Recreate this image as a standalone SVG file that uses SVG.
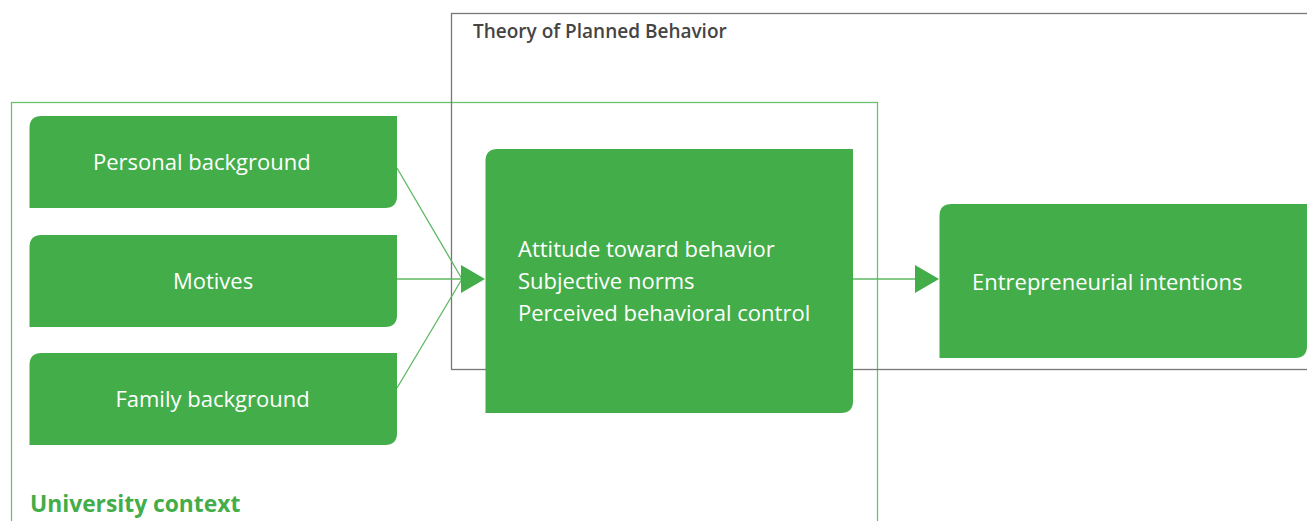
<svg xmlns="http://www.w3.org/2000/svg" width="1307" height="521" viewBox="0 0 1307 521">
<style>
.box{fill:#43ad4a}
.t{font-family:"Open Sans","Noto Sans",sans-serif;font-size:22px;fill:#ffffff}
.c{stroke:#5cb860;stroke-width:1.3;fill:none}
.ah{fill:#43ad4a}
</style>
<rect width="1307" height="521" fill="#ffffff"/>
<g id="university-context">
<rect x="11.5" y="102.5" width="866" height="430" fill="none" stroke="#6cc070" stroke-width="1.3"/>
<text x="30" y="512" style="font-family:'Open Sans','Noto Sans',sans-serif;font-size:22.8px;font-weight:bold;fill:#43ad4a">University context</text>
</g>
<g id="theory-of-planned-behavior">
<rect x="451.5" y="13.5" width="870" height="356" fill="none" stroke="#777777" stroke-width="1.3"/>
<text x="473" y="38" style="font-family:'Open Sans','Noto Sans',sans-serif;font-size:19px;font-weight:600;fill:#444444">Theory of Planned Behavior</text>
</g>
<g id="connectors">
<line class="c" x1="397" y1="168" x2="462" y2="279"/>
<line class="c" x1="397" y1="279" x2="462" y2="279"/>
<line class="c" x1="397" y1="388" x2="462" y2="279"/>
<polygon class="ah" points="461,265 485,279 461,293"/>
<line class="c" x1="853" y1="279" x2="916" y2="279"/>
<polygon class="ah" points="915,265 939,279 915,293"/>
</g>
<g id="personal-background">
<path class="box" d="M29.5,128 Q29.5,116 41.5,116 H397 V196 Q397,208 385,208 H29.5 Z"/>
<text class="t" x="93" y="170">Personal background</text>
</g>
<g id="motives">
<path class="box" d="M29.5,247 Q29.5,235 41.5,235 H397 V315 Q397,327 385,327 H29.5 Z"/>
<text class="t" x="213" y="289" text-anchor="middle">Motives</text>
</g>
<g id="family-background">
<path class="box" d="M29.5,365 Q29.5,353 41.5,353 H397 V433 Q397,445 385,445 H29.5 Z"/>
<text class="t" x="212.5" y="407" text-anchor="middle">Family background</text>
</g>
<g id="tpb-constructs">
<path class="box" d="M485.5,161 Q485.5,149 497.5,149 H853 V401 Q853,413 841,413 H485.5 Z"/>
<text class="t" x="518" y="257">Attitude toward behavior</text>
<text class="t" x="518" y="289">Subjective norms</text>
<text class="t" x="518" y="321">Perceived behavioral control</text>
</g>
<g id="entrepreneurial-intentions">
<path class="box" d="M939.5,216 Q939.5,204 951.5,204 H1307 V346 Q1307,358 1295,358 H939.5 Z"/>
<text class="t" x="972" y="290">Entrepreneurial intentions</text>
</g>
</svg>
